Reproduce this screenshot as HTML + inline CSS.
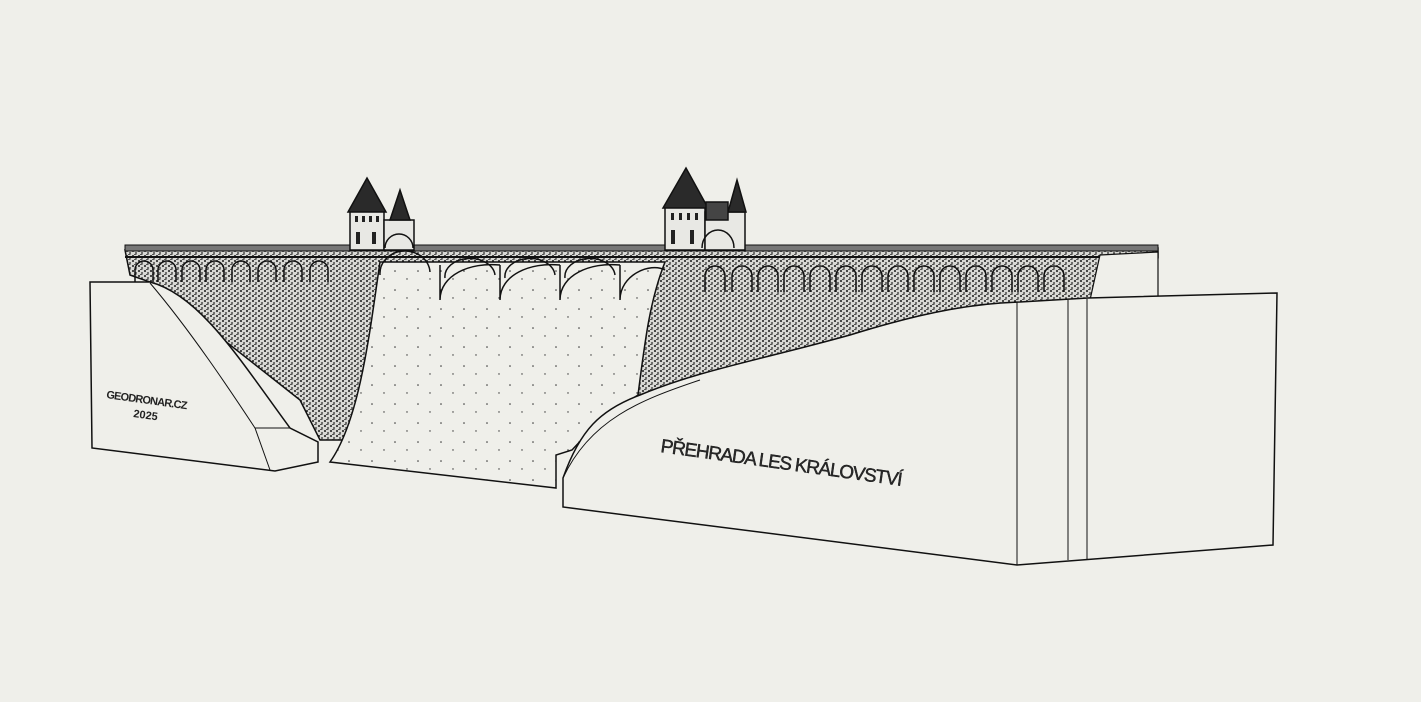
<!DOCTYPE html>
<html><head><meta charset="utf-8"><style>
html,body{margin:0;padding:0;background:#efefea;}
svg{display:block}
</style></head><body>
<svg width="1421" height="702" viewBox="0 0 1421 702" xmlns="http://www.w3.org/2000/svg">
<defs>
<pattern id="st" width="6" height="5" patternUnits="userSpaceOnUse">
<rect width="6" height="5" fill="#d8d8d4"/>
<circle cx="1" cy="1" r="1" fill="#1a1a1a"/>
<circle cx="4" cy="3" r="0.9" fill="#222"/>
<rect x="2" y="4.2" width="2.5" height="0.8" fill="#333"/>
</pattern>
<pattern id="sp" width="23" height="19" patternUnits="userSpaceOnUse">
<rect width="23" height="19" fill="#efefea"/>
<circle cx="4" cy="5" r="0.8" fill="#333"/>
<circle cx="16" cy="13" r="0.7" fill="#333"/>
</pattern>
</defs>
<rect width="1421" height="702" fill="#efefea"/>
<path d="M125,250 L1158,248 L1158,258 L1100,300 L1020,303 L760,360 L640,395 L600,420 L570,440 L320,440 L300,400 L150,282 L130,275 Z" fill="url(#st)" stroke="#111" stroke-width="1.5"/>
<rect x="125" y="245" width="1033" height="6" fill="#777" stroke="#111"/>
<line x1="125" y1="257" x2="1100" y2="257" stroke="#111" stroke-width="2"/>
<g fill="none" stroke="#111" stroke-width="1.5">
<path d="M135,282 v-12 a9,9 0 0 1 18,0 v12 M158,282 v-12 a9,9 0 0 1 18,0 v12 M182,282 v-12 a9,9 0 0 1 18,0 v12 M206,282 v-12 a9,9 0 0 1 18,0 v12 M232,282 v-12 a9,9 0 0 1 18,0 v12 M258,282 v-12 a9,9 0 0 1 18,0 v12 M284,282 v-12 a9,9 0 0 1 18,0 v12 M310,282 v-12 a9,9 0 0 1 18,0 v12"/>
<path d="M705,292 v-16 a10,10 0 0 1 20,0 v16 M732,292 v-16 a10,10 0 0 1 20,0 v16 M758,292 v-16 a10,10 0 0 1 20,0 v16 M784,292 v-16 a10,10 0 0 1 20,0 v16 M810,292 v-16 a10,10 0 0 1 20,0 v16 M836,292 v-16 a10,10 0 0 1 20,0 v16 M862,292 v-16 a10,10 0 0 1 20,0 v16 M888,292 v-16 a10,10 0 0 1 20,0 v16 M914,292 v-16 a10,10 0 0 1 20,0 v16 M940,292 v-16 a10,10 0 0 1 20,0 v16 M966,292 v-16 a10,10 0 0 1 20,0 v16 M992,292 v-16 a10,10 0 0 1 20,0 v16 M1018,292 v-16 a10,10 0 0 1 20,0 v16 M1044,292 v-16 a10,10 0 0 1 20,0 v16"/>
</g>
<path d="M380,262 L665,262 C650,300 645,340 638,395 L600,420 L572,450 L556,455 L556,488 L330,462 C360,420 370,330 380,262 Z" fill="url(#sp)" stroke="#111" stroke-width="1.5"/>
<g fill="none" stroke="#111" stroke-width="1.5">
<path d="M440,300 C440,275 470,262 500,265 M440,300 L440,265 M500,300 C500,275 530,262 560,265 M500,300 L500,265 M560,300 C560,275 590,262 620,265 M560,300 L560,265 M620,300 C620,275 650,262 665,270 M620,300 L620,265"/>
<path d="M380,275 A20,18 0 0 1 430,272 M445,278 A25,18 0 0 1 495,275 M505,278 A25,18 0 0 1 555,275 M565,278 A25,18 0 0 1 615,275"/>
</g>
<g stroke="#111" stroke-width="1.5">
<rect x="350" y="210" width="34" height="40" fill="#e8e8e4"/>
<path d="M348,212 L367,178 L386,212 Z" fill="#2a2a2a"/>
<rect x="384" y="220" width="30" height="30" fill="#e8e8e4"/>
<path d="M390,220 L400,190 L410,220 Z" fill="#2a2a2a"/>
<path d="M385,248 a14,14 0 0 1 28,0" fill="none"/>
<rect x="665" y="206" width="40" height="44" fill="#e8e8e4"/>
<path d="M663,208 L686,168 L708,208 Z" fill="#2a2a2a"/>
<rect x="705" y="212" width="40" height="38" fill="#e8e8e4"/>
<path d="M728,212 L737,180 L746,212 Z" fill="#2a2a2a"/>
<path d="M702,248 a16,18 0 0 1 32,0" fill="none"/>
<rect x="706" y="202" width="22" height="18" fill="#444"/>
</g>
<g fill="#222">
<rect x="355" y="216" width="3" height="6"/><rect x="362" y="216" width="3" height="6"/><rect x="369" y="216" width="3" height="6"/><rect x="376" y="216" width="3" height="6"/>
<rect x="356" y="232" width="4" height="12"/><rect x="372" y="232" width="4" height="12"/>
<rect x="671" y="213" width="3" height="7"/><rect x="679" y="213" width="3" height="7"/><rect x="687" y="213" width="3" height="7"/><rect x="695" y="213" width="3" height="7"/>
<rect x="671" y="230" width="4" height="14"/><rect x="690" y="230" width="4" height="14"/>
</g>
<path d="M1100,255 L1158,252 L1158,296 L1090,300 Z" fill="#efefea" stroke="#111" stroke-width="1.2"/>
<path d="M90,282 L150,282 C200,295 240,360 290,428 L318,442 L318,462 L275,471 L92,448 Z" fill="#efefea" stroke="#111" stroke-width="1.5"/>
<path d="M150,283 C190,330 230,390 255,428 L270,470 M255,428 L290,428" fill="none" stroke="#111" stroke-width="1"/>
<path d="M563,507 L563,478 C580,430 600,410 640,395 C700,370 760,360 850,335 C930,310 980,303 1020,302 L1088,298 L1277,293 L1273,545 L1017,565 Z" fill="#efefea" stroke="#111" stroke-width="1.5"/>
<path d="M563,478 C590,420 640,400 700,380" fill="none" stroke="#111" stroke-width="1"/>
<g stroke="#111" stroke-width="1"><line x1="1017" y1="302" x2="1017" y2="565"/><line x1="1068" y1="300" x2="1068" y2="560"/><line x1="1087" y1="299" x2="1087" y2="559"/></g>
<text x="660" y="452" transform="rotate(8 660 452)" font-family="Liberation Sans, sans-serif" font-size="19" fill="#2a2a2a" stroke="#111" stroke-width="0.4" letter-spacing="-1.2">PŘEHRADA LES KRÁLOVSTVÍ</text>
<text x="106" y="398" transform="rotate(8 106 398)" font-family="Liberation Sans, sans-serif" font-size="11" font-weight="bold" fill="#222" letter-spacing="-0.8">GEODRONAR.CZ</text>
<text x="133" y="417" transform="rotate(8 133 417)" font-family="Liberation Sans, sans-serif" font-size="11" font-weight="bold" fill="#222">2025</text>
</svg>
</body></html>
